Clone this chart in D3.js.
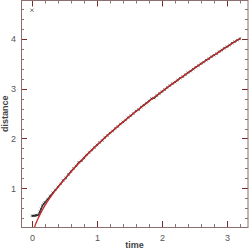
<!DOCTYPE html>
<html>
<head>
<meta charset="utf-8">
<script src="https://cdn.jsdelivr.net/npm/d3@7"></script>
<style>
  body { margin: 0; background: #fff; }
  svg { display: block; }
  text { font-family: "Liberation Sans", Arial, sans-serif; }
</style>
</head>
<body>
<script>
// measured track
var time = [
    0.00, 0.02, 0.04, 0.06, 0.08, 0.10, 0.12, 0.14, 0.16, 0.18, 0.20, 0.24, 0.28, 0.32, 0.36, 0.40,
    0.44, 0.48, 0.52, 0.56, 0.60, 0.64, 0.68, 0.72, 0.76, 0.80, 0.84, 0.88, 0.92, 0.96, 1.00,
    1.04, 1.08, 1.12, 1.16, 1.20, 1.24, 1.28, 1.32, 1.36, 1.40, 1.44, 1.48, 1.52, 1.56, 1.60,
    1.64, 1.68, 1.72, 1.76, 1.80, 1.84, 1.88, 1.92, 1.96, 2.00, 2.04, 2.08, 2.12, 2.16, 2.20,
    2.24, 2.28, 2.32, 2.36, 2.40, 2.44, 2.48, 2.52, 2.56, 2.60, 2.64, 2.68, 2.72, 2.76, 2.80,
    2.84, 2.88, 2.92, 2.96, 3.00, 3.04, 3.08, 3.12, 3.16, 3.20
];
var distance = [
    0.45, 0.45, 0.45, 0.46, 0.46, 0.47, 0.53, 0.59, 0.65, 0.69, 0.72, 0.78, 0.85, 0.91, 0.97, 1.03,
    1.09, 1.16, 1.21, 1.28, 1.34, 1.40, 1.45, 1.52, 1.55, 1.61, 1.67, 1.72, 1.77, 1.82, 1.87,
    1.92, 1.96, 2.02, 2.06, 2.11, 2.15, 2.20, 2.24, 2.29, 2.33, 2.37, 2.42, 2.46, 2.50, 2.55,
    2.58, 2.63, 2.67, 2.71, 2.75, 2.80, 2.81, 2.86, 2.90, 2.94, 2.98, 3.02, 3.06, 3.10, 3.13,
    3.17, 3.21, 3.24, 3.28, 3.32, 3.35, 3.39, 3.43, 3.46, 3.50, 3.53, 3.57, 3.60, 3.64, 3.67,
    3.70, 3.74, 3.77, 3.81, 3.84, 3.87, 3.91, 3.94, 3.97, 4.00
];

// stray sample
var outlierTime = [0.0];
var outlierDistance = [4.57];

// fitted curve
var fitTime = [0.035, 0.05, 0.075, 0.1, 0.15, 0.2, 0.3, 0.4, 0.5, 0.7, 1.0, 1.4, 1.8, 2.2, 2.6, 3.0, 3.21];
var fitDistance = [0.200, 0.263, 0.343, 0.414, 0.545, 0.660, 0.855, 1.026, 1.180, 1.480, 1.870, 2.331, 2.748, 3.134, 3.497, 3.840, 4.014];

var xMajor = [0, 1, 2, 3];
var yMajor = [1, 2, 3, 4];

var W = 249, H = 249;
var mLeft = 21, mRight = 248, mTop = 0.5, mBottom = 227;

var frameColor = "#8c6f6f";
var majorColor = "#7a2a2a";
var minorColor = "#8c7272";

var svg = d3.select("body").append("svg")
    .attr("width", W)
    .attr("height", H);

var x = d3.scaleLinear().domain([-0.169, 3.323]).range([mLeft, mRight]);
var y = d3.scaleLinear().domain([0.226, 4.766]).range([mBottom, mTop]);

svg.append("defs").append("clipPath").attr("id", "plotclip")
    .append("rect")
    .attr("x", mLeft).attr("y", mTop)
    .attr("width", mRight - mLeft).attr("height", mBottom - mTop);

// minor and major ticks on all four sides, pointing in
var xMinor = d3.range(0, 3.3, 0.2).filter(function(v) { return Math.abs(v - Math.round(v)) > 0.01; });
var yMinor = d3.range(0.4, 4.7, 0.2).filter(function(v) { return Math.abs(v - Math.round(v)) > 0.01; });

var ticks = svg.append("g");
xMinor.forEach(function(v) {
    var px = Math.round(x(v)) + 0.5;
    ticks.append("line").attr("x1", px).attr("x2", px).attr("y1", mBottom).attr("y2", mBottom - 3)
        .attr("stroke", minorColor);
    ticks.append("line").attr("x1", px).attr("x2", px).attr("y1", mTop).attr("y2", mTop + 3)
        .attr("stroke", minorColor);
});
xMajor.forEach(function(v) {
    var px = Math.round(x(v)) + 0.5;
    ticks.append("line").attr("x1", px).attr("x2", px).attr("y1", mBottom).attr("y2", mBottom - 6)
        .attr("stroke", majorColor);
    ticks.append("line").attr("x1", px).attr("x2", px).attr("y1", mTop).attr("y2", mTop + 6)
        .attr("stroke", majorColor);
});
yMinor.forEach(function(v) {
    var py = Math.round(y(v)) + 0.5;
    ticks.append("line").attr("x1", mLeft).attr("x2", mLeft + 3).attr("y1", py).attr("y2", py)
        .attr("stroke", minorColor);
    ticks.append("line").attr("x1", mRight).attr("x2", mRight - 3).attr("y1", py).attr("y2", py)
        .attr("stroke", minorColor);
});
yMajor.forEach(function(v) {
    var py = Math.round(y(v)) + 0.5;
    ticks.append("line").attr("x1", mLeft).attr("x2", mLeft + 6).attr("y1", py).attr("y2", py)
        .attr("stroke", majorColor);
    ticks.append("line").attr("x1", mRight).attr("x2", mRight - 6).attr("y1", py).attr("y2", py)
        .attr("stroke", majorColor);
});

svg.append("rect")
    .attr("x", mLeft + 0.5).attr("y", mTop)
    .attr("width", mRight - mLeft - 0.5).attr("height", mBottom - mTop + 0.5)
    .attr("fill", "none")
    .attr("stroke", frameColor);

// tick labels
svg.selectAll(".xlab")
    .data(xMajor)
    .enter()
    .append("text")
    .attr("class", "xlab")
    .attr("x", function(d) { return x(d) + 0.5; })
    .attr("y", 241)
    .attr("text-anchor", "middle")
    .attr("font-size", 9)
    .attr("fill", "#555")
    .text(function(d) { return d; });

svg.selectAll(".ylab")
    .data(yMajor)
    .enter()
    .append("text")
    .attr("class", "ylab")
    .attr("x", 16)
    .attr("y", function(d) { return y(d) + 3.5; })
    .attr("text-anchor", "end")
    .attr("font-size", 9)
    .attr("fill", "#555")
    .text(function(d) { return d; });

svg.append("text")
    .attr("x", (mLeft + mRight) / 2)
    .attr("y", 248)
    .attr("text-anchor", "middle")
    .attr("font-size", 9)
    .attr("font-weight", "bold")
    .attr("fill", "#444")
    .text("time");

svg.append("text")
    .attr("transform", "translate(8," + ((mTop + mBottom) / 2) + ") rotate(-90)")
    .attr("text-anchor", "middle")
    .attr("font-size", 9)
    .attr("font-weight", "bold")
    .attr("fill", "#444")
    .text("distance");

// data marks
var plot = svg.append("g").attr("clip-path", "url(#plotclip)");

var pathOf = d3.line()
    .x(function(d) { return x(d[0]); })
    .y(function(d) { return y(d[1]); });

// samples are dense enough to read as a band
plot.append("path")
    .datum(d3.zip(time, distance))
    .attr("d", pathOf)
    .attr("fill", "none")
    .attr("stroke", "#222")
    .attr("stroke-width", 1.5)
    .attr("opacity", 0.8);

var cross = function(g, tx, dy, s) {
    var px = x(tx), py = y(dy);
    g.append("path")
        .attr("d", "M" + (px - s) + "," + (py - s) + "L" + (px + s) + "," + (py + s) +
                   "M" + (px - s) + "," + (py + s) + "L" + (px + s) + "," + (py - s))
        .attr("stroke", "#1a1a1a")
        .attr("stroke-width", 0.6)
        .attr("fill", "none");
};

time.forEach(function(t, i) { cross(plot, t, distance[i], 1.2); });
outlierTime.forEach(function(t, i) { cross(plot, t, outlierDistance[i], 1.6); });

plot.append("path")
    .datum(d3.zip(fitTime, fitDistance))
    .attr("d", pathOf.curve(d3.curveMonotoneX))
    .attr("fill", "none")
    .attr("stroke", "#c82828")
    .attr("stroke-width", 1.3);
</script>
</body>
</html>
